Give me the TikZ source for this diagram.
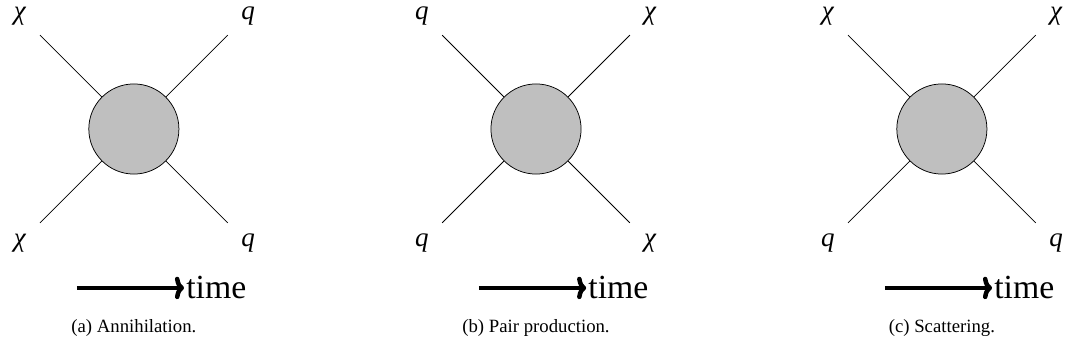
\documentclass[tikz,border=0pt]{standalone}
\usepackage{fontspec}
\setmainfont{Liberation Serif}
\newfontfamily\partfont{Liberation Serif Italic}
\usetikzlibrary{positioning,arrows.meta}
\tikzset{
  blob/.style={circle,draw,fill=gray!50,minimum size=1.69cm,inner sep=0pt},
  particle/.style={font=\Large\partfont,inner sep=0pt},
  timearrow/.style={-{To[length=0.17cm,width=0.42cm]},line width=2.4pt},
  timelabel/.style={font=\fontsize{18}{20}\selectfont,inner sep=1pt},
  caption/.style={font=\normalsize,inner sep=0pt}
}
\begin{document}
\begin{tikzpicture}
    \useasboundingbox (0,0) rectangle (19.9875,6.76875);
    % (a) annihilation
    \node[blob] (ba) at (2.51,4.35) {};
    \coordinate (ba1) at (0.75,6.11);
    \coordinate (ba2) at (4.27,6.11);
    \coordinate (ba3) at (0.75,2.59);
    \coordinate (ba4) at (4.27,2.59);
    \draw (ba) -- (ba1);
    \draw (ba) -- (ba2);
    \draw (ba) -- (ba3);
    \draw (ba) -- (ba4);
    \node[particle] (la1) at (0.37,6.46) {χ};
    \node[particle] (la2) at (4.65,6.46) {q};
    \node[particle] (la3) at (0.37,2.21) {χ};
    \node[particle] (la4) at (4.65,2.21) {q};
    \coordinate (ta0) at (1.44,1.37);
    \coordinate (ta1) at (3.45,1.37);
    \draw[timearrow] (ta0) -- (ta1);
    \node[timelabel,right=0pt of ta1] (timea) {time};
    \node[caption] (capa) at (2.51,0.62) {(a) Annihilation.};
    % (b) pair production
    \node[blob] (bb) at (10.05,4.35) {};
    \coordinate (bb1) at (8.29,6.11);
    \coordinate (bb2) at (11.81,6.11);
    \coordinate (bb3) at (8.29,2.59);
    \coordinate (bb4) at (11.81,2.59);
    \draw (bb) -- (bb1);
    \draw (bb) -- (bb2);
    \draw (bb) -- (bb3);
    \draw (bb) -- (bb4);
    \node[particle] (lb1) at (7.91,6.46) {q};
    \node[particle] (lb2) at (12.19,6.46) {χ};
    \node[particle] (lb3) at (7.91,2.21) {q};
    \node[particle] (lb4) at (12.19,2.21) {χ};
    \coordinate (tb0) at (8.98,1.37);
    \coordinate (tb1) at (10.99,1.37);
    \draw[timearrow] (tb0) -- (tb1);
    \node[timelabel,right=0pt of tb1] (timeb) {time};
    \node[caption] (capb) at (10.05,0.62) {(b) Pair production.};
    % (c) scattering
    \node[blob] (bc) at (17.66,4.35) {};
    \coordinate (bc1) at (15.90,6.11);
    \coordinate (bc2) at (19.42,6.11);
    \coordinate (bc3) at (15.90,2.59);
    \coordinate (bc4) at (19.42,2.59);
    \draw (bc) -- (bc1);
    \draw (bc) -- (bc2);
    \draw (bc) -- (bc3);
    \draw (bc) -- (bc4);
    \node[particle] (lc1) at (15.52,6.46) {χ};
    \node[particle] (lc2) at (19.80,6.46) {χ};
    \node[particle] (lc3) at (15.52,2.21) {q};
    \node[particle] (lc4) at (19.80,2.21) {q};
    \coordinate (tc0) at (16.59,1.37);
    \coordinate (tc1) at (18.60,1.37);
    \draw[timearrow] (tc0) -- (tc1);
    \node[timelabel,right=0pt of tc1] (timec) {time};
    \node[caption] (capc) at (17.66,0.62) {(c) Scattering.};
\end{tikzpicture}
\end{document}
